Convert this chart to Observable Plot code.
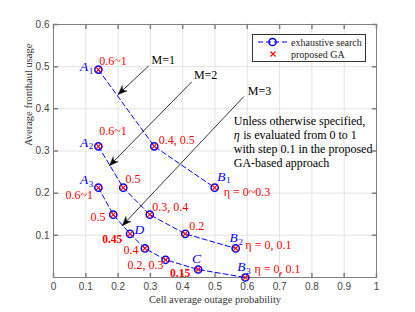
<!DOCTYPE html>
<html><head><meta charset="utf-8">
<script src="https://cdn.jsdelivr.net/npm/d3@7"></script>
<script src="https://cdn.jsdelivr.net/npm/@observablehq/plot@0.6"></script>
<style>
body{margin:0;background:#fff}
#chart{position:relative;width:415px;height:312px}
.serif text, text.serif, g.serif text {font-family: "Liberation Serif", "Times New Roman", serif !important;}
</style>
</head><body><div id="chart"></div>
<script>
// ---- data ----
const xTicks = [0, 0.1, 0.2, 0.3, 0.4, 0.5, 0.6, 0.7, 0.8, 0.9, 1];
const yTicks = [0.1, 0.2, 0.3, 0.4, 0.5, 0.6];
const seriesNames = ["M=1", "M=2", "M=3"];
const m1X = [0.139, 0.312, 0.499];
const m1Y = [0.493, 0.311, 0.213];
const m2X = [0.139, 0.216, 0.298, 0.408, 0.564];
const m2Y = [0.311, 0.213, 0.149, 0.1035, 0.069];
const m3X = [0.139, 0.185, 0.237, 0.283, 0.347, 0.448, 0.594];
const m3Y = [0.213, 0.149, 0.1035, 0.069, 0.042, 0.019, 0.0];

// eta labels (red), centred
const etaMidText = ["0.6~1", "0.6~1", "0.5", "0.6~1", "0.5", "0.4", "0.2, 0.3"];
const etaMidX = [0.184, 0.184, 0.246, 0.08, 0.138, 0.24, 0.285];
const etaMidY = [0.514, 0.346, 0.234, 0.196, 0.143, 0.064, 0.0284];
// eta labels (red), left aligned
const etaStartText = ["0.4, 0.5", "η = 0~0.3", "0.3, 0.4", "0.2", "η = 0, 0.1", "η = 0, 0.1"];
const etaStartX = [0.326, 0.527, 0.306, 0.42, 0.594, 0.622];
const etaStartY = [0.325, 0.2015, 0.168, 0.121, 0.0758, 0.0206];
// bold eta labels
const boldText = ["0.45", "0.15"];
const boldX = [0.182, 0.392];
const boldY = [0.0917, 0.0102];
// point names (blue italic) with subscripts
const nameLetter = ["A", "A", "A", "B", "B", "B", "C", "D"];
const nameSub = ["1", "2", "3", "1", "2", "3", "", ""];
const nameX = [0.0947, 0.0947, 0.0947, 0.52, 0.558, 0.582, 0.443, 0.266];
const nameY = [0.5, 0.3207, 0.232, 0.24, 0.094, 0.0245, 0.0443, 0.113];
// arrows for M labels
const arrX1 = [0.295, 0.428, 0.589];
const arrY1 = [0.502, 0.464, 0.429];
const arrX2 = [0.200, 0.173, 0.213];
const arrY2 = [0.434, 0.265, 0.123];
const mLabelX = [0.34, 0.471, 0.638];
const mLabelY = [0.5166, 0.4787, 0.443];
const noteLines = ["Unless otherwise specified,", " is evaluated from 0 to 1", "with step 0.1 in the proposed", "GA-based approach"];
const noteSymbol = "η";
const noteX = 0.558, noteY = 0.322;
const legendLabels = ["exhaustive search", "proposed GA"];

// ---- tables ----
const pts = [];
[[m1X, m1Y], [m2X, m2Y], [m3X, m3Y]].forEach(([xs, ys], i) =>
  xs.forEach((x, j) => pts.push({series: seriesNames[i], x, y: ys[j]})));
const etaMid = etaMidText.map((t, i) => ({t, x: etaMidX[i], y: etaMidY[i]}));
const etaStart = etaStartText.map((t, i) => ({t, x: etaStartX[i], y: etaStartY[i]}));
const bold = boldText.map((t, i) => ({t, x: boldX[i], y: boldY[i]}));
const names = nameLetter.map((t, i) => ({t, s: nameSub[i], x: nameX[i], y: nameY[i]}));
const arrows = seriesNames.map((m, i) => ({m, x1: arrX1[i], y1: arrY1[i], x2: arrX2[i], y2: arrY2[i], lx: mLabelX[i], ly: mLabelY[i]}));

const W = 415, H = 312, ML = 53, MR = 39, MT = 24, MB = 35;
const kx = (W - ML - MR) / 1, ky = (H - MT - MB) / 0.6; // px per data unit, for screen-space arrow angles
const tickShape = {draw(ctx, l) { ctx.moveTo(0, 0); ctx.lineTo(0, -l); }};
const headShape = {draw(ctx, l) { ctx.moveTo(0, -l); ctx.lineTo(-3.6, 0); ctx.lineTo(0, -l + 6.5); ctx.lineTo(3.6, 0); ctx.closePath(); }};
const axisColor = "#808080";
const S = {className: "serif"};
const lineGap = 14;
const noteMark = (t, i, extra = {}) => Plot.text([t], {...S, x: noteX, y: noteY, dy: (i - 1.5) * lineGap, textAnchor: "start", fontSize: 12, fill: "black", ...extra});

const chart = Plot.plot({
  width: W, height: H,
  marginLeft: ML, marginRight: MR, marginTop: MT, marginBottom: MB,
  x: {domain: [0, 1]},
  y: {domain: [0, 0.6]},
  style: {fontFamily: "Liberation Sans, Arial, sans-serif", fontSize: "10px", color: "#444", background: "white"},
  marks: [
    Plot.gridX(xTicks, {stroke: "#e4e4e4", strokeOpacity: 1}),
    Plot.gridY(yTicks, {stroke: "#e4e4e4", strokeOpacity: 1}),
    Plot.axisX(xTicks, {tickSize: 0, tickPadding: 5, tickFormat: d => d3.format("~g")(d), label: null}),
    Plot.axisY(yTicks, {tickSize: 0, tickPadding: 4, tickFormat: d => d3.format("~g")(d), label: null}),
    Plot.frame({stroke: axisColor}),
    Plot.vector(xTicks, {x: d => d, y: 0, length: 4, rotate: 0, anchor: "start", shape: tickShape, stroke: axisColor}),
    Plot.vector(xTicks, {x: d => d, y: 0.6, length: 4, rotate: 180, anchor: "start", shape: tickShape, stroke: axisColor}),
    Plot.vector(yTicks, {x: 0, y: d => d, length: 4, rotate: 90, anchor: "start", shape: tickShape, stroke: axisColor}),
    Plot.vector(yTicks, {x: 1, y: d => d, length: 4, rotate: 270, anchor: "start", shape: tickShape, stroke: axisColor}),
    Plot.text(["Cell average outage probability"], {...S, frameAnchor: "bottom", dy: 25, fontSize: 10.5, fill: "#333"}),
    Plot.text(["Average fronthaul usage"], {...S, frameAnchor: "left", dx: -25, dy: -5, rotate: -90, fontSize: 10.5, fill: "#333"}),
    // curves
    Plot.line(pts, {x: "x", y: "y", z: "series", stroke: "#0000ff", strokeWidth: 1, strokeDasharray: "5,3"}),
    Plot.dot(pts, {x: "x", y: "y", r: 3.6, stroke: "#0000ff", strokeWidth: 1.5, fill: "none"}),
    Plot.dot(pts, {x: "x", y: "y", symbol: "times", r: 2.6, stroke: "#ff0000", strokeWidth: 1.1}),
    // arrows: shaft + filled head
    Plot.link(arrows, {x1: "x1", y1: "y1", x2: "x2", y2: "y2", stroke: "black", strokeWidth: 0.8}),
    Plot.vector(arrows, {x: "x2", y: "y2", length: 9, anchor: "end", shape: headShape,
      rotate: d => Math.atan2((d.x2 - d.x1) * kx, (d.y2 - d.y1) * ky) * 180 / Math.PI,
      fill: "black", stroke: "black", strokeWidth: 0.3}),
    Plot.text(arrows, {...S, x: "lx", y: "ly", text: "m", fontSize: 12, fill: "black"}),
    // labels
    Plot.text(etaMid, {...S, x: "x", y: "y", text: "t", fontSize: 12, fill: "#ff0000"}),
    Plot.text(etaStart, {...S, x: "x", y: "y", text: "t", textAnchor: "start", fontSize: 12, fill: "#ff0000"}),
    Plot.text(bold, {...S, x: "x", y: "y", text: "t", fontSize: 11.5, fontWeight: "bold", fill: "#ff0000"}),
    Plot.text(names, {...S, x: "x", y: "y", text: "t", fontSize: 13.5, fontStyle: "italic", fill: "#0000ff"}),
    Plot.text(names, {...S, x: "x", y: "y", text: "s", dx: 7, dy: 4, fontSize: 9, fill: "#0000ff"}),
    // note
    noteMark(noteLines[0], 0),
    noteMark(noteSymbol, 1, {fontStyle: "italic"}),
    noteMark(noteLines[1], 1, {dx: 6.5}),
    noteMark(noteLines[2], 2),
    noteMark(noteLines[3], 3)
  ]
});

// legend drawn inside the svg
const svg = d3.select(chart);
const lg = svg.append("g").attr("class", "serif").attr("font-size", 10).attr("text-anchor", "start");
lg.append("rect").attr("x", 252.5).attr("y", 34.5).attr("width", 113).attr("height", 27).attr("fill", "white").attr("stroke", "#333").attr("stroke-width", 1);
lg.append("line").attr("x1", 258).attr("x2", 288).attr("y1", 42).attr("y2", 42).attr("stroke", "#0000ff").attr("stroke-dasharray", "5,3");
lg.append("circle").attr("cx", 272.5).attr("cy", 42).attr("r", 3.6).attr("fill", "none").attr("stroke", "#0000ff").attr("stroke-width", 1.5);
lg.append("path").attr("d", "M270.5,51.5l5,5M275.5,51.5l-5,5").attr("stroke", "#ff0000").attr("stroke-width", 1.1);
lg.selectAll("text.l").data(legendLabels).join("text").attr("x", 291).attr("y", (d, i) => 42 + i * 12).attr("dy", "0.35em").attr("fill", "#222").text(d => d);

document.getElementById("chart").appendChild(chart);
</script></body></html>
